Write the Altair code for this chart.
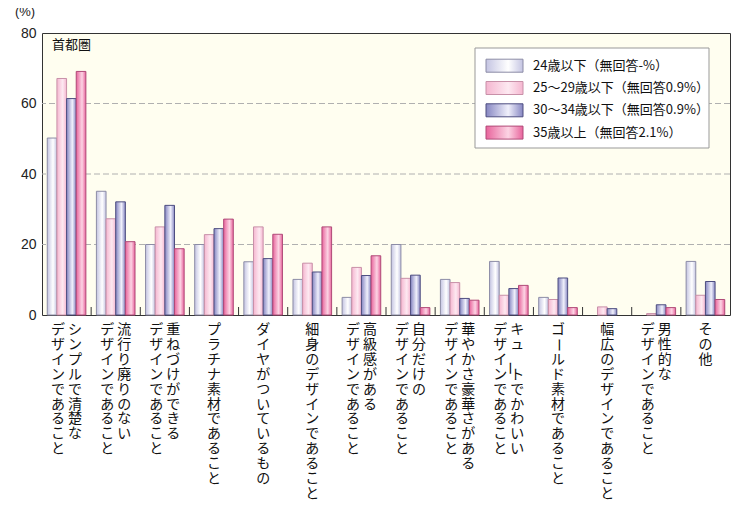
import altair as alt
import pandas as pd

# ---------------- data ----------------
label_lines = [
    ["シンプルで清楚な", "デザインであること"],
    ["流行り廃りのない", "デザインであること"],
    ["重ねづけができる", "デザインであること"],
    ["プラチナ素材であること"],
    ["ダイヤがついているもの"],
    ["細身のデザインであること"],
    ["高級感がある", "デザインであること"],
    ["自分だけの", "デザインであること"],
    ["華やかさ豪華さがある", "デザインであること"],
    ["キュートでかわいい", "デザインであること"],
    ["ゴールド素材であること"],
    ["幅広のデザインであること"],
    ["男性的な", "デザインであること"],
    ["その他"],
]
categories = ["".join(l) for l in label_lines]

series_names = [
    "24歳以下（無回答-%）",
    "25〜29歳以下（無回答0.9%）",
    "30〜34歳以下（無回答0.9%）",
    "35歳以上（無回答2.1%）",
]
s24 = [50.2, 35.1, 20.0, 20.0, 15.1, 10.1, 5.0, 20.0, 10.1, 15.2, 5.0, 0.0, 0.0, 15.2]
s25 = [67.1, 27.3, 25.0, 22.8, 25.0, 14.7, 13.5, 10.4, 9.2, 5.6, 4.4, 2.3, 0.4, 5.6]
s30 = [61.4, 32.1, 31.1, 24.5, 16.0, 12.2, 11.2, 11.3, 4.7, 7.5, 10.5, 1.8, 2.9, 9.5]
s35 = [69.1, 20.8, 18.8, 27.2, 22.9, 25.0, 16.8, 2.1, 4.2, 8.4, 2.1, 0.0, 2.1, 4.4]
series_values = [s24, s25, s30, s35]

y_ticks = [0, 20, 40, 60, 80]
grid_values = [20, 40, 60]

# ---------------- styles ----------------
JP = "Noto Sans CJK JP"
NUM = "Liberation Sans"
edge_colors = ["#c4c4e2", "#f5b6d0", "#8686c2", "#e8649c"]
mid_colors = ["#ffffff", "#fde9f1", "#f0f0fb", "#fcd4e4"]
stroke_colors = ["#8c8ca6", "#c890a8", "#4e4e80", "#b04a78"]

def grad(i):
    return alt.Gradient(
        gradient="linear", x1=0, x2=1, y1=0, y2=0,
        stops=[
            alt.GradientStop(color=edge_colors[i], offset=0),
            alt.GradientStop(color=mid_colors[i], offset=0.6),
            alt.GradientStop(color=edge_colors[i], offset=1),
        ],
    )

rows = []
for s, vals in zip(series_names, series_values):
    for c, v in zip(categories, vals):
        rows.append({"cat": c, "series": s, "value": v})
bars_df = pd.DataFrame(rows)

chars = []
for c, lines in zip(categories, label_lines):
    n = len(lines)
    for j, line in enumerate(lines):
        off = 0 if n == 1 else (8.5 if j == 0 else -8.5)
        for k, ch in enumerate(line):
            chars.append({"cat": c, "ch": ch, "row": k, "off": off,
                          "rot": 90 if ch == "ー" else 0})
chars_df = pd.DataFrame(chars)

xscale = alt.Scale(domain=categories, paddingInner=0, paddingOuter=0)
yscale = alt.Scale(domain=[0, 80])
yaxis = alt.Axis(values=y_ticks, grid=False, ticks=False, domain=False,
                 labelFont=NUM, labelFontSize=14, labelColor="#222",
                 labelPadding=6, title=None)

layers = []

# grid lines
layers.append(
    alt.Chart(pd.DataFrame({"g": grid_values}))
    .mark_rule(color="#b0b0b0", strokeDash=[6, 3], strokeWidth=1)
    .encode(y=alt.Y("g:Q", scale=yscale, axis=yaxis))
)

# bars
for i, s in enumerate(series_names):
    layers.append(
        alt.Chart(bars_df)
        .transform_filter(alt.datum.series == s)
        .transform_filter(alt.datum.value > 0)
        .mark_bar(fill=grad(i), stroke=stroke_colors[i], strokeWidth=1)
        .encode(
            x=alt.X("cat:N", scale=xscale, axis=None, sort=categories),
            xOffset=alt.XOffset("series:N", scale=alt.Scale(domain=series_names,
                                                             paddingInner=0,
                                                             paddingOuter=0.545)),
            y=alt.Y("value:Q", scale=yscale, axis=yaxis),
        )
    )

# x ticks between groups
layers.append(
    alt.Chart(pd.DataFrame({"cat": categories[1:]}))
    .mark_rule(color="#333", strokeWidth=1)
    .encode(
        x=alt.X("cat:N", scale=xscale, axis=None, bandPosition=0),
        y=alt.value(282),
        y2=alt.value(274),
    )
)

# vertical x labels
for off in [8.5, 0, -8.5]:
    layers.append(
        alt.Chart(chars_df)
        .transform_filter(alt.datum.off == off)
        .transform_calculate(py="297 + datum.row * 14.9")
        .mark_text(font=JP, fontSize=14, color="#111", align="center",
                   baseline="middle", dx=off)
        .encode(
            x=alt.X("cat:N", scale=xscale, axis=None),
            y=alt.Y("py:Q", scale=None),
            text="ch:N",
            angle=alt.Angle("rot:Q", scale=None),
        )
    )

# region label and unit
layers.append(
    alt.Chart(pd.DataFrame({"t": ["首都圏"]}))
    .mark_text(font=JP, fontSize=13, color="#111", align="left", baseline="middle")
    .encode(x=alt.value(10), y=alt.value(12), text="t:N")
)
layers.append(
    alt.Chart(pd.DataFrame({"t": ["(%)"]}))
    .mark_text(font=NUM, fontSize=13, color="#222", align="center", baseline="middle")
    .encode(x=alt.value(-17), y=alt.value(-21), text="t:N")
)

# legend
layers.append(
    alt.Chart(pd.DataFrame({"t": ["box"]}))
    .mark_rect(fill="white", stroke="#999", strokeWidth=1)
    .encode(x=alt.value(433), x2=alt.value(667), y=alt.value(15), y2=alt.value(115))
)
for i, s in enumerate(series_names):
    cy = 32.7 + 22.3 * i
    ldf = pd.DataFrame({"t": [s]})
    layers.append(
        alt.Chart(ldf)
        .mark_rect(fill=grad(i), stroke=stroke_colors[i], strokeWidth=1)
        .encode(x=alt.value(444), x2=alt.value(481),
                y=alt.value(cy - 6.5), y2=alt.value(cy + 6.5))
    )
    layers.append(
        alt.Chart(ldf)
        .mark_text(font=JP, fontSize=13, color="#111", align="left", baseline="middle")
        .encode(x=alt.value(491), y=alt.value(cy), text="t:N")
    )

chart = (
    alt.layer(*layers)
    .properties(width=688, height=282, autosize="none",
                padding={"left": 34, "top": 25, "right": 12, "bottom": 199})
    .configure_view(fill="#fffef0", stroke="#333", strokeWidth=1)
)

chart.save("out.html", embed_options={"renderer": "svg", "actions": False})
